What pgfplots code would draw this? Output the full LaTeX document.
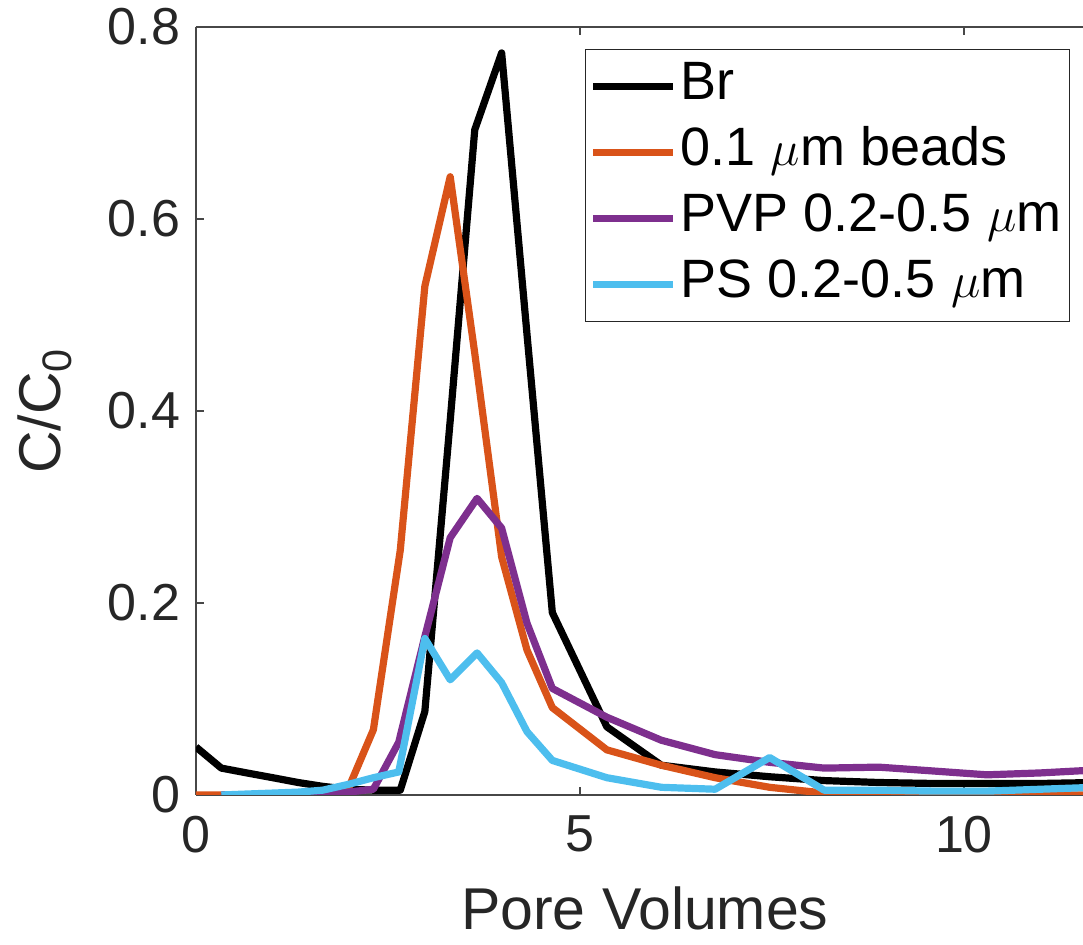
\documentclass[border=0pt]{standalone}
\usepackage{pgfplots}
\pgfplotsset{compat=1.18}
\usepackage{fontspec}
\setmainfont{Liberation Sans}
\definecolor{mblack}{RGB}{0,0,0}
\definecolor{morange}{RGB}{217,83,25}
\definecolor{mpurple}{RGB}{126,47,142}
\definecolor{mcyan}{RGB}{77,190,238}
\definecolor{axgray}{RGB}{38,38,38}
\begin{document}
\begin{tikzpicture}
\begin{axis}[
  name=ax,
  scale only axis,
  width=443.5pt, height=384pt,
  xmin=0, xmax=11.55, ymin=0, ymax=0.8,
  axis x line=box, axis y line=left,
  x axis line style={-}, y axis line style={-},
  axis line style={draw=axgray!85, line width=0.6pt},
  xtick={0,5,10}, ytick={0,0.2,0.4,0.6,0.8},
  yticklabels={0,0.2,0.4,0.6,0.8},
  xticklabels={0,5,10},
  tick align=inside,
  major tick length=4pt,
  tick style={draw=axgray!85, line width=0.6pt},
  xtick pos=both,
  ticklabel style={font=\fontsize{26}{30}\selectfont, text=axgray},
  /pgf/number format/assume math mode=true,
  xticklabel style={yshift=-7pt},
  yticklabel style={xshift=-4.5pt},
  xlabel={Pore Volumes},
  ylabel={C/C\textsubscript{0}},
  label style={font=\fontsize{29.5}{34}\selectfont, text=axgray},
  xlabel style={at={(axis description cs:0.506,0)}, anchor=base, yshift=-67.5pt},
  ylabel style={at={(axis description cs:-0.1533,0.5)}, anchor=base},
  legend style={at={(rel axis cs:0.9853,0.9714)}, anchor=north east,
    draw=axgray, line width=0.6pt, fill=white,
    font=\fontsize{27}{31}\selectfont,
    inner xsep=2pt, inner ysep=2pt,
    nodes={text height=19pt, text depth=6pt, inner xsep=2pt, inner ysep=4pt},
    row sep=0pt},
  legend cell align=left,
  legend image code/.code={\draw[#1, line width=3.6pt] (0pt,0pt) -- (40pt,0pt);},
  every axis plot/.append style={line width=3.6pt, line join=round},
]
\addplot[mblack] coordinates {
(0,0.050) (0.33,0.028) (0.66,0.023) (1.0,0.018) (1.33,0.013) (1.65,0.009)
(1.98,0.006) (2.31,0.005) (2.66,0.005) (2.98,0.087) (3.31,0.39) (3.63,0.693)
(3.98,0.773) (4.31,0.48) (4.64,0.19) (5.35,0.071) (6.06,0.031) (6.76,0.024)
(7.47,0.019) (8.18,0.015) (8.89,0.013) (9.6,0.012) (10.3,0.012) (11.0,0.012) (11.7,0.013)
};
\addlegendentry{Br}
\addplot[morange] coordinates {
(0,0) (0.33,0) (0.66,0) (1.0,0) (1.33,0) (1.65,0) (1.98,0.006) (2.31,0.068)
(2.66,0.255) (2.98,0.53) (3.31,0.644) (3.63,0.46) (3.98,0.248) (4.31,0.151)
(4.64,0.091) (5.35,0.047) (6.06,0.031) (6.76,0.018) (7.47,0.008) (8.18,0.002)
(8.89,0.0) (9.6,0.0) (10.3,0.001) (11.0,0.0) (11.7,0.0)
};
\addlegendentry{0.1 $\mu$m beads}
\addplot[mpurple] coordinates {
(0.33,0) (0.66,0) (1.0,0) (1.33,0.001) (1.65,0.002) (1.98,0.003) (2.31,0.006)
(2.64,0.055) (2.98,0.165) (3.31,0.268) (3.66,0.309) (3.98,0.278) (4.31,0.179)
(4.64,0.111) (5.35,0.081) (6.06,0.057) (6.76,0.042) (7.47,0.034) (8.18,0.028)
(8.89,0.029) (9.6,0.025) (10.3,0.021) (11.0,0.023) (11.7,0.026)
};
\addlegendentry{PVP 0.2-0.5 $\mu$m}
\addplot[mcyan] coordinates {
(0.33,0) (0.66,0.001) (1.0,0.002) (1.33,0.003) (1.65,0.005) (1.98,0.011)
(2.31,0.018) (2.64,0.024) (2.98,0.163) (3.31,0.12) (3.66,0.148) (3.98,0.117)
(4.31,0.066) (4.64,0.036) (5.35,0.018) (6.06,0.008) (6.76,0.006) (7.47,0.039)
(8.18,0.005) (8.89,0.005) (9.6,0.004) (10.3,0.004) (11.0,0.006) (11.7,0.008)
};
\addlegendentry{PS 0.2-0.5 $\mu$m}
\end{axis}
\pgfresetboundingbox
\path[use as bounding box] ([xshift=-98pt,yshift=-75pt]ax.south west) rectangle ([yshift=13.5pt]ax.north east);
\end{tikzpicture}
\end{document}
